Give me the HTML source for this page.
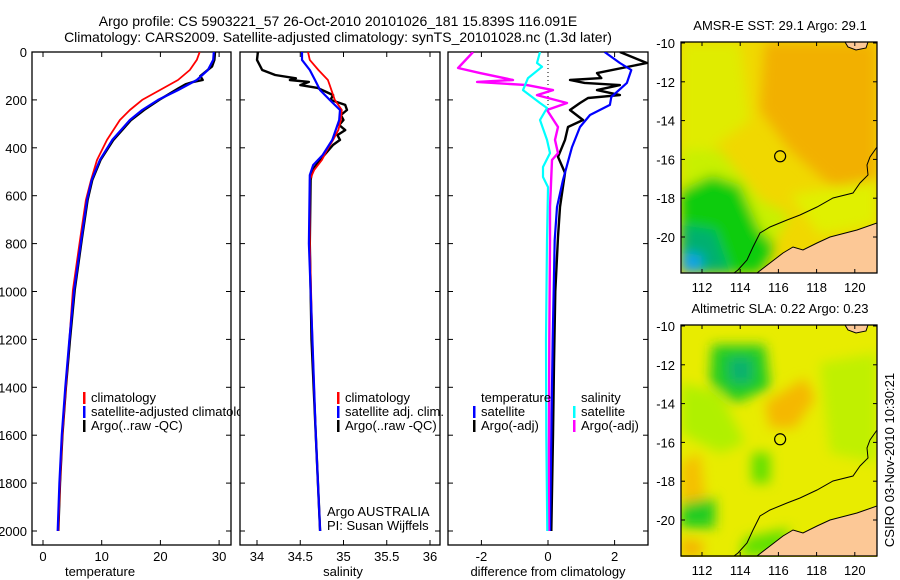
<!DOCTYPE html>
<html><head><meta charset="utf-8">
<style>
html,body{margin:0;padding:0;background:#fff;}
svg{display:block;font-family:"Liberation Sans",sans-serif;}
text{fill:#000;}
</style></head>
<body>
<svg id="fig" width="900" height="580" viewBox="0 0 900 580" xmlns="http://www.w3.org/2000/svg">
<defs>
  <filter id="blur1" x="-20%" y="-20%" width="140%" height="140%"><feGaussianBlur stdDeviation="6"/></filter>
  <clipPath id="clipMap1"><rect x="681" y="42" width="196" height="231"/></clipPath>
  <clipPath id="clipMap2"><rect x="681" y="325" width="196" height="232"/></clipPath>
  <clipPath id="clipP1"><rect x="32" y="52" width="199" height="493"/></clipPath>
  <clipPath id="clipP2"><rect x="240" y="52" width="200" height="493"/></clipPath>
  <clipPath id="clipP3"><rect x="448" y="52" width="200" height="493"/></clipPath>
</defs>
<text x="338" y="26" font-size="14" text-anchor="middle">Argo profile: CS 5903221_57 26-Oct-2010 20101026_181 15.839S 116.091E</text>
<text x="338" y="42" font-size="14" text-anchor="middle">Climatology: CARS2009. Satellite-adjusted climatology: synTS_20101028.nc (1.3d later)</text>
<g id="g1"></g>
<g id="g2"></g>
<g id="g3"></g>
<g id="gm"></g>
<text transform="translate(894,460) rotate(-90)" font-size="13" text-anchor="middle">CSIRO 03-Nov-2010 10:30:21</text>
</svg>
<script>
// ---------- data ----------
const depthTicks = [0,200,400,600,800,1000,1200,1400,1600,1800,2000];
const tempTicks = [0,10,20,30];
const salTicks = [34,34.5,35,35.5,36];
const salTickLabels = ["34","34.5","35","35.5","36"];
const diffTicks = [-2,0,2];

const tClimDepth = [0,33,75,117,159,200,242,284,367,451,534,618,785,994,1200,1400,1600,1800,2000];
const tClimVal   = [26.7,26.2,25.0,23.0,19.9,16.9,14.8,13.1,10.9,9.2,8.2,7.3,6.3,5.1,4.5,3.9,3.3,2.9,2.6];
const tSatDepth  = [0,33,75,117,159,200,242,284,367,451,534,618,785,994,1200,1400,1600,1800,2000];
const tSatVal    = [29.1,29.0,28.1,26.2,23.0,19.6,16.9,14.8,11.8,9.7,8.3,7.5,6.5,5.3,4.5,3.8,3.2,2.8,2.5];
const tArgoDepth = [0,33,60,100,117,125,135,150,175,200,242,284,367,451,534,618,785,994,1200,1400,1600,1800,2000];
const tArgoVal   = [29.3,29.2,28.8,26.8,27.2,25.6,24.3,23.2,21.5,19.8,17.2,15.0,12.0,9.8,8.4,7.6,6.6,5.4,4.6,3.9,3.3,2.9,2.6];

const sClimDepth = [0,33,75,117,138,200,242,284,326,367,409,451,493,534,800,1200,1600,2000];
const sClimVal   = [34.59,34.61,34.71,34.82,34.84,34.90,34.98,34.97,34.94,34.88,34.81,34.75,34.66,34.61,34.61,34.64,34.68,34.73];
const sSatDepth  = [0,33,75,117,159,200,242,284,367,430,472,514,800,1200,1600,2000];
const sSatVal    = [34.52,34.52,34.61,34.67,34.73,34.84,34.96,34.95,34.87,34.76,34.65,34.61,34.60,34.64,34.68,34.73];
const sArgoDepth = [0,33,75,96,110,117,125,138,150,165,180,200,221,242,263,284,305,326,347,367,388,451,493,534,800,1200,1600,2000];
const sArgoVal   = [34.01,34.00,34.06,34.21,34.45,34.38,34.60,34.50,34.70,34.79,34.88,34.85,35.02,35.04,34.97,35.00,34.95,35.02,34.93,34.96,34.88,34.73,34.64,34.62,34.61,34.63,34.68,34.73];

const dTSatDepth = [0,46,75,129,188,221,263,313,397,534,647,785,1200,1600,2000];
const dTSatVal   = [1.70,2.16,2.50,2.37,1.90,1.86,1.26,0.96,0.72,0.45,0.27,0.20,0.14,0.10,0.06];
const dTArgoDepth = [0,46,88,109,117,129,138,159,180,192,213,242,284,313,367,438,505,647,772,1000,1300,1600,2000];
const dTArgoVal   = [2.16,2.97,1.47,1.60,0.66,1.10,2.16,1.47,2.16,1.20,0.96,0.66,1.05,0.60,0.51,0.30,0.51,0.36,0.30,0.22,0.18,0.15,0.10];
const dSArgoDepth = [0,67,88,117,125,138,159,180,213,242,313,367,422,451,647,785,1200,1600,2000];
const dSArgoVal   = [-2.25,-2.70,-2.04,-1.05,-2.13,-0.63,0.15,-0.33,0.57,-0.03,0.30,0.21,0.30,0.12,0.06,0.06,0.04,0.03,0.02];
const dSSatDepth = [0,46,62,109,159,213,234,284,367,422,480,522,564,785,1200,1600,2000];
const dSSatVal   = [-0.24,-0.33,-0.18,-0.60,-0.75,-0.24,-0.03,-0.24,-0.03,0.06,-0.15,-0.15,0.00,-0.03,-0.06,-0.05,-0.02];

const latTicks = [10,12,14,16,18,20];
const lonTicks = [112,114,116,118,120];
const floatLon = 116.091, floatLat = 15.839;

// ---------- helpers ----------
const NS = "http://www.w3.org/2000/svg";
function mk(tag, attrs, parent){ const e=document.createElementNS(NS,tag); for(const k in attrs) e.setAttribute(k,attrs[k]); parent.appendChild(e); return e; }
const yD = d => 52 + d*0.2395;
const xT = v => 43 + v*5.87;
const xS = v => 257 + (v-34)*86.5;
const xDf = v => 548 + v*33.3;

function frame(g, x0, x1, name){
  const r = mk('rect',{x:x0,y:52,width:x1-x0,height:493,fill:'#fff',stroke:'#000','stroke-width':1.3},g);
  
  
  depthTicks.forEach(d=>{
    const y=yD(d);
    mk('line',{x1:x0,x2:x0+5,y1:y,y2:y,stroke:'#000'},g);
    mk('line',{x1:x1-5,x2:x1,y1:y,y2:y,stroke:'#000'},g);
  });
}
function xticks(g, ticks, labels, fx){
  ticks.forEach((t,i)=>{
    const x=fx(t);
    mk('line',{x1:x,x2:x,y1:545,y2:540,stroke:'#000'},g);
    mk('line',{x1:x,x2:x,y1:52,y2:57,stroke:'#000'},g);
    const tx=mk('text',{x:x,y:561,'font-size':13,'text-anchor':'middle'},g);
    tx.textContent=labels[i];
    
    
  });
}
function series(g, depths, vals, fx, color, clip, name, w){
  const pts = depths.map((d,i)=>fx(vals[i]).toFixed(1)+','+yD(d).toFixed(1)).join(' ');
  const p = mk('polyline',{points:pts,fill:'none',stroke:color,'stroke-width':w||2,'stroke-linejoin':'round','clip-path':'url(#'+clip+')'},g);
  
  
}
function label(g,x,y,txt,name,size,anchor){
  const t=mk('text',{x:x,y:y,'font-size':size||13,'text-anchor':anchor||'start'},g);
  t.textContent=txt;
  
  
  return t;
}
function legendBar(g,x,y,color){
  const b=mk('rect',{x:x,y:y-10,width:2.5,height:12,fill:color},g);
  
  
}

// ---------- panel 1 ----------
const g1=document.getElementById('g1');
frame(g1,32,231,'temperature-axes');
depthTicks.forEach(d=>label(g1,27,yD(d)+5,String(d),'y-tick-label',13,'end'));
xticks(g1,tempTicks,tempTicks.map(String),xT);
series(g1,tArgoDepth,tArgoVal,xT,'#000','clipP1','temperature-argo-line',2.4);
series(g1,tClimDepth,tClimVal,xT,'#f00','clipP1','temperature-climatology-line',1.8);
series(g1,tSatDepth,tSatVal,xT,'#00f','clipP1','temperature-satellite-line',2.2);
label(g1,100,576,'temperature','x-axis-title-temperature',13,'middle');
legendBar(g1,83,402,'#f00'); label(g1,91,402,'climatology','legend-climatology');
legendBar(g1,83,416,'#00f'); label(g1,91,416,'satellite-adjusted climatology','legend-satellite-adjusted');
legendBar(g1,83,430,'#000'); label(g1,91,430,'Argo(..raw -QC)','legend-argo');

// ---------- panel 2 ----------
const g2=document.getElementById('g2');
frame(g2,240,440,'salinity-axes');
xticks(g2,salTicks,salTickLabels,xS);
series(g2,sArgoDepth,sArgoVal,xS,'#000','clipP2','salinity-argo-line',2.4);
series(g2,sClimDepth,sClimVal,xS,'#f00','clipP2','salinity-climatology-line',1.8);
series(g2,sSatDepth,sSatVal,xS,'#00f','clipP2','salinity-satellite-line',2.2);
label(g2,343,576,'salinity','x-axis-title-salinity',13,'middle');
legendBar(g2,337,402,'#f00'); label(g2,345,402,'climatology','legend-climatology');
legendBar(g2,337,416,'#00f'); label(g2,345,416,'satellite adj. clim.','legend-satellite-adj');
legendBar(g2,337,430,'#000'); label(g2,345,430,'Argo(..raw -QC)','legend-argo');
label(g2,327,516,'Argo AUSTRALIA','credit-argo-australia');
label(g2,327,530,'PI: Susan Wijffels','credit-pi');

// ---------- panel 3 ----------
const g3=document.getElementById('g3');
frame(g3,448,648,'difference-axes');
xticks(g3,diffTicks,diffTicks.map(String),xDf);
mk('line',{x1:xDf(0),x2:xDf(0),y1:52,y2:115,stroke:'#000','stroke-dasharray':'1,3'},g3);
series(g3,dTArgoDepth,dTArgoVal,xDf,'#000','clipP3','temperature-argo-difference-line',2.4);
series(g3,dTSatDepth,dTSatVal,xDf,'#00f','clipP3','temperature-satellite-difference-line',2.2);
series(g3,dSArgoDepth,dSArgoVal,xDf,'#f0f','clipP3','salinity-argo-difference-line',2.4);
series(g3,dSSatDepth,dSSatVal,xDf,'#0ff','clipP3','salinity-satellite-difference-line',2.2);
label(g3,548,576,'difference from climatology','x-axis-title-difference',13,'middle');
label(g3,481,402,'temperature','legend-temperature-heading');
legendBar(g3,473,416,'#00f'); label(g3,481,416,'satellite','legend-temperature-satellite');
legendBar(g3,473,430,'#000'); label(g3,481,430,'Argo(-adj)','legend-temperature-argo');
label(g3,581,402,'salinity','legend-salinity-heading');
legendBar(g3,573,416,'#0ff'); label(g3,581,416,'satellite','legend-salinity-satellite');
legendBar(g3,573,430,'#f0f'); label(g3,581,430,'Argo(-adj)','legend-salinity-argo');

// ---------- maps ----------
const gm=document.getElementById('gm');
const landTop = "877,223 857,230 830,237 817,243 803,250 793,247 783,253 770,263 757,273 877,273";
const islandTop = "845,42 868,42 866,48 856,50 848,47";
const contourTop = "877,147 870,157 867,165 868,175 860,183 853,193 833,198 817,207 800,215 787,220 770,227 760,233 753,247 747,260 738,270 734,273";
function drawMap(top, clip, blobs, title, name){
  const gg=mk('g',{},gm);
  
  
  const inner=mk('g',{'clip-path':'url(#'+clip+')'},gg);
  mk('rect',{x:681,y:top,width:196,height:232,fill:blobs.base},inner);
  const bl=mk('g',{filter:'url(#blur1)'},inner);
  blobs.shapes.forEach(s=>mk('polygon',{points:s[0].map(p=>p[0]+','+(p[1]+top-42)).join(' '),fill:s[1]},bl));
  const off=top-42;
  mk('polygon',{points:landTop,fill:'#fcc896',stroke:'#000','stroke-width':1,transform:'translate(0,'+off+')'},inner);
  mk('polygon',{points:islandTop,fill:'#fcc896',stroke:'#000','stroke-width':1,transform:'translate(0,'+off+')'},inner);
  mk('polyline',{points:contourTop,fill:'none',stroke:'#000','stroke-width':1,transform:'translate(0,'+off+')'},inner);
  mk('rect',{x:681,y:top,width:196,height:231,fill:'none',stroke:'#000','stroke-width':1.3},gg);
  const xL=lon=>702+(lon-112)*19.1, yL=lat=>top+1+(lat-10)*19.4;
  latTicks.forEach(l=>{
    mk('line',{x1:681,x2:685,y1:yL(l),y2:yL(l),stroke:'#000'},gg);
    mk('line',{x1:873,x2:877,y1:yL(l),y2:yL(l),stroke:'#000'},gg);
    label(gg,675,yL(l)+5,'-'+l,'latitude-tick-label',13,'end');
  });
  lonTicks.forEach(l=>{
    mk('line',{x1:xL(l),x2:xL(l),y1:top,y2:top+4,stroke:'#000'},gg);
    mk('line',{x1:xL(l),x2:xL(l),y1:top+227,y2:top+231,stroke:'#000'},gg);
    label(gg,xL(l),top+250,String(l),'longitude-tick-label',13,'middle');
  });
  const c=mk('circle',{cx:xL(floatLon),cy:yL(floatLat),r:5.5,fill:'none',stroke:'#000','stroke-width':1.2},gg);
  
  
  label(gg,780,top-12,title,name+'-title',13,'middle');
}
drawMap(42,'clipMap1',{base:'#f0d800',shapes:[
  [[[765,42],[877,42],[877,190],[830,185],[790,150],[760,110]],'#f2b000'],
  [[[681,42],[740,42],[750,120],[710,150],[681,150]],'#e0ec00'],
  [[[681,150],[720,150],[760,200],[790,215],[770,250],[740,273],[681,273]],'#c8f000'],
  [[[681,190],[712,175],[740,185],[760,230],[775,245],[760,273],[681,273]],'#10cc10'],
  [[[681,225],[715,230],[730,273],[681,273]],'#00b070'],
  [[[681,252],[703,256],[700,273],[681,273]],'#10a0f0'],
  [[[790,195],[877,180],[877,225],[820,235]],'#e0f000']
]},'AMSR-E SST: 29.1  Argo: 29.1','sst-map');
drawMap(325,'clipMap2',{base:'#e8ec00',shapes:[
  [[[712,62],[765,62],[770,105],[735,120],[710,100]],'#20cc20'],
  [[[728,75],[752,75],[752,100],[730,100]],'#10b070'],
  [[[681,100],[720,110],[745,160],[720,170],[681,150]],'#b0f000'],
  [[[765,120],[805,95],[815,115],[795,145],[770,145]],'#f5b800'],
  [[[681,180],[700,170],[705,215],[681,225]],'#f5c000'],
  [[[681,220],[715,215],[715,245],[681,245]],'#20cc20'],
  [[[681,255],[705,260],[700,273],[681,273]],'#f5b000'],
  [[[820,80],[877,70],[877,180],[830,170]],'#c0f000'],
  [[[745,255],[790,245],[780,273],[740,273]],'#60e000'],
  [[[752,170],[770,170],[770,200],[752,200]],'#60e000']
]},'Altimetric SLA: 0.22  Argo: 0.23','sla-map');
</script>
</body></html>
